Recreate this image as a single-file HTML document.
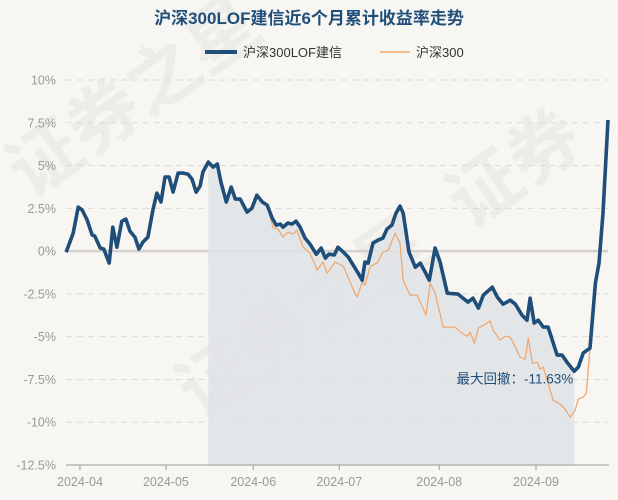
<!DOCTYPE html>
<html><head><meta charset="utf-8">
<style>
html,body{margin:0;padding:0;background:#f8f6f2;}
svg{display:block;font-family:"Liberation Sans","Noto Sans CJK SC",sans-serif;}
</style></head>
<body>
<svg id="chart" width="618" height="500" viewBox="0 0 618 500">
<rect width="618" height="500" fill="#f8f6f2"/>
<g fill="#000" opacity="0.04" font-size="72" font-weight="bold">
<text x="30" y="200" transform="rotate(-35 30 200)">证券之星</text>
<text x="200" y="420" transform="rotate(-35 200 420)">证券之星</text>
<text x="470" y="230" transform="rotate(-35 470 230)">证券</text>
</g>
<text x="309" y="24" text-anchor="middle" font-size="17" font-weight="bold" fill="#1f4e79">沪深300LOF建信近6个月累计收益率走势</text>
<g>
<g>
<line x1="205" y1="52" x2="237" y2="52" stroke="#1f4e79" stroke-width="4"/>
<text x="243" y="57" font-size="13" fill="#333">沪深300LOF建信</text></g>
<g>
<line x1="380" y1="52" x2="410" y2="52" stroke="#f0a870" stroke-width="1.5"/>
<text x="416" y="57" font-size="13" fill="#333">沪深300</text></g>
</g>
<g id="grid"></g>
<path id="dd" fill="#dfe3e6" opacity="0.85"/>
<g id="axes"></g>
<path id="idxLine" fill="none" stroke="#f0a870" stroke-width="1.3" stroke-linejoin="round"/>
<path id="fundLine" fill="none" stroke="#1f4e79" stroke-width="3.6" stroke-linejoin="round"/>
<text id="ddLabel" font-size="13.5" fill="#1f4e79" text-anchor="end">最大回撤：-11.63%</text>
</svg>
<script>
const yTicks=[10,7.5,5,2.5,0,-2.5,-5,-7.5,-10,-12.5];
const yTickLabels=["10%","7.5%","5%","2.5%","0%","-2.5%","-5%","-7.5%","-10%","-12.5%"];
const monthLabels=["2024-04","2024-05","2024-06","2024-07","2024-08","2024-09"];
const monthDays=[3.1,22.2,41.6,60.7,82.9,104.4];
const fundDays=[0,0.2,1.6,2.7,3.6,4.7,5.8,6.4,7.6,8.4,9.6,10.4,11.3,12.4,13.3,14.2,15.3,16.2,17.1,18.2,19.3,20.2,21.1,22.0,22.9,23.8,24.9,26.0,27.1,28.0,28.9,29.8,30.4,31.6,32.7,33.6,34.4,35.6,36.7,37.6,38.7,40.2,41.3,42.4,43.6,44.7,45.8,46.7,47.6,48.2,49.3,50.2,51.1,52.0,53.1,54.2,55.6,56.7,57.6,58.4,59.6,60.4,61.6,62.7,63.8,64.9,65.8,66.4,67.1,68.2,69.3,70.4,71.3,72.4,73.3,74.2,74.9,76.2,77.6,78.7,79.8,80.7,82.0,83.1,84.7,87.1,88.2,89.3,90.4,91.6,92.7,94.7,95.8,97.1,98.7,99.8,101.3,102.4,103.1,104.0,104.9,106.0,107.1,109.1,110.2,111.3,112.9,113.8,114.9,116.4,117.6,118.4,119.3,120.4];
const fundVals=[-0.06,0.06,1.05,2.57,2.40,1.81,0.94,0.88,0.18,0.12,-0.70,1.40,0.23,1.75,1.87,1.17,0.82,0.12,0.53,0.82,2.40,3.39,2.87,4.33,4.33,3.45,4.56,4.56,4.50,4.21,3.45,3.80,4.62,5.20,4.91,5.09,4.04,2.87,3.74,3.04,3.04,2.28,2.51,3.27,2.87,2.69,1.93,1.52,1.58,1.40,1.64,1.58,1.75,1.40,0.76,0.41,-0.18,0.18,-0.41,-0.18,-0.23,0.23,-0.06,-0.35,-0.82,-1.29,-1.70,-0.64,-0.70,0.47,0.64,0.76,1.29,1.52,2.22,2.63,2.22,-0.06,-0.94,-0.70,-1.23,-1.70,0.18,-0.64,-2.46,-2.51,-2.75,-2.98,-2.75,-3.33,-2.57,-2.11,-2.69,-3.10,-2.87,-3.10,-3.74,-4.04,-2.75,-4.21,-4.04,-4.44,-4.44,-6.08,-6.08,-6.49,-7.02,-6.78,-5.96,-5.67,-1.87,-0.70,2.22,7.66];
const idxDays=[0,0.2,1.6,2.7,3.6,4.7,5.8,6.4,7.6,8.4,9.6,10.4,11.3,12.4,13.3,14.2,15.3,16.2,17.1,18.2,19.3,20.2,21.1,22.0,22.9,23.8,24.9,26.0,27.1,28.0,28.9,29.8,30.4,31.6,32.7,33.6,34.4,35.6,36.7,37.6,38.7,40.2,41.3,42.4,43.6,44.7,46.0,47.1,48.2,49.3,50.4,51.3,52.7,54.2,55.8,57.1,58.0,59.8,61.6,63.1,64.2,64.7,65.8,66.4,67.6,69.1,70.4,71.6,73.1,74.2,74.9,76.4,78.0,80.0,80.9,82.0,83.8,86.4,88.0,89.1,89.8,90.7,91.6,93.1,94.2,94.9,96.4,97.6,98.7,99.8,100.9,102.0,102.7,103.6,104.7,105.3,106.0,108.2,109.8,110.9,112.0,113.1,113.8,114.9,115.6,116.4,118.2,119.8,120.4];
const idxVals=[-0.06,0.06,1.05,2.57,2.40,1.81,0.94,0.88,0.18,0.12,-0.70,1.40,0.23,1.75,1.87,1.17,0.82,0.12,0.53,0.82,2.40,3.39,2.87,4.33,4.33,3.45,4.56,4.56,4.50,4.21,3.45,3.80,4.62,5.30,4.95,5.12,4.04,2.87,3.74,3.04,3.04,2.28,2.51,3.27,2.87,2.60,1.35,1.29,0.82,1.11,0.99,1.23,0.23,-0.12,-1.11,-0.64,-1.29,-0.64,-0.88,-1.81,-2.46,-2.69,-1.81,-1.99,-0.88,-0.70,-0.06,0.06,1.05,0.47,-1.70,-2.57,-2.57,-3.74,-1.87,-2.46,-4.44,-4.44,-4.80,-4.97,-4.74,-5.38,-4.50,-4.27,-4.09,-4.62,-5.20,-4.97,-5.03,-5.61,-6.20,-6.32,-5.09,-6.55,-6.49,-6.90,-6.78,-8.71,-8.95,-9.24,-9.71,-9.30,-8.65,-8.54,-8.30,-5.67,-0.8,4.5,6.8];
const ddStart=31.6, ddEnd=112.9;

const X0=66,X1=608,Y0=80,Y1=465,DMAX=120.4,VMAX=10,VMIN=-12.5;
const sx=d=>X0+d/DMAX*(X1-X0);
const sy=v=>Y0+(VMAX-v)/(VMAX-VMIN)*(Y1-Y0);
const NS="http://www.w3.org/2000/svg";
const svg=document.getElementById('chart');
const grid=document.getElementById('grid');
const axes=document.getElementById('axes');
function mk(tag,attrs,parent){const e=document.createElementNS(NS,tag);for(const k in attrs)e.setAttribute(k,attrs[k]);parent.appendChild(e);return e;}
yTicks.forEach((v,i)=>{
  const y=sy(v);
  if(v!==VMIN){
    const l=mk('line',{x1:X0,x2:X1,y1:y,y2:y,stroke:v===0?'#d4d1cc':'#dcdad6','stroke-width':v===0?2.5:1,'stroke-dasharray':v===0?'none':'6,5'},grid);
    
    
  }
  const t=mk('text',{x:56,y:y+4.5,'text-anchor':'end','font-size':12.5,fill:'#999'},grid);
  t.textContent=yTickLabels[i];
  
  
});
const ax=mk('line',{x1:X0,x2:X1+1,y1:Y1,y2:Y1,stroke:'#999','stroke-width':1},axes);


monthDays.forEach((d,i)=>{
  const x=sx(d);
  const tk=mk('line',{x1:x,x2:x,y1:Y1,y2:Y1+5,stroke:'#999'},axes);
  
  
  const t=mk('text',{x:x,y:486,'text-anchor':'middle','font-size':12.5,fill:'#999'},axes);
  t.textContent=monthLabels[i];
  
  
});
function pathOf(ds,vs){return ds.map((d,i)=>(i?'L':'M')+sx(d).toFixed(1)+','+sy(vs[i]).toFixed(1)).join('');}
document.getElementById('fundLine').setAttribute('d',pathOf(fundDays,fundVals));
document.getElementById('idxLine').setAttribute('d',pathOf(idxDays,idxVals));
let dd='M'+sx(ddStart)+','+Y1;
fundDays.forEach((d,i)=>{if(d>=ddStart&&d<=ddEnd)dd+='L'+sx(d).toFixed(1)+','+sy(fundVals[i]).toFixed(1);});
dd+='L'+sx(ddEnd)+','+Y1+'Z';
document.getElementById('dd').setAttribute('d',dd);
const lab=document.getElementById('ddLabel');
lab.setAttribute('x',sx(ddEnd)-1);
lab.setAttribute('y',sy(-7.5)+4);
</script>
</body></html>
